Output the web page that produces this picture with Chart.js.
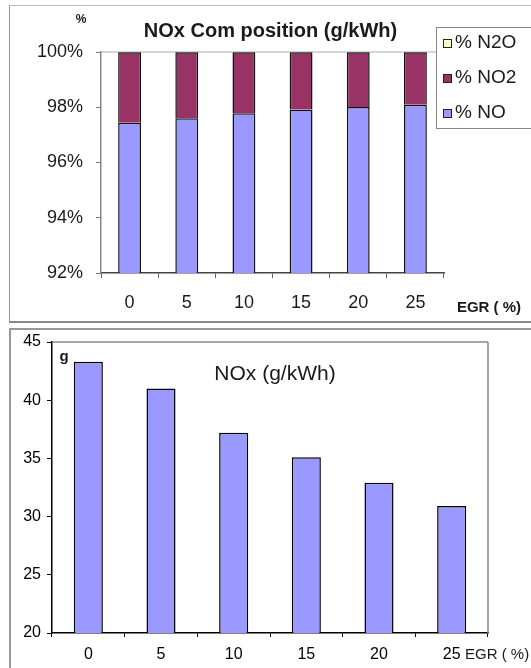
<!DOCTYPE html>
<html>
<head>
<meta charset="utf-8">
<script src="https://cdn.jsdelivr.net/npm/chart.js@4/dist/chart.umd.min.js"></script>
<style>
  body { margin: 0; background: #fff; width: 531px; height: 668px; overflow: hidden; position: relative; }
  .frame { position: absolute; box-sizing: border-box; }
  #frameTop { left: 9px; top: 5px; width: 560px; height: 318px; border-top: 1px solid #bbb; border-left: 1px solid #999; border-bottom: 2px solid #888; }
  #frameBottom { left: 9px; top: 328px; width: 560px; height: 400px; border-top: 2px solid #999; border-left: 2px solid #999; }
  canvas { position: absolute; left: 0; }
  #composition { top: 0; }
  #nox { top: 325px; }
</style>
</head>
<body>
<div class="frame" id="frameTop"></div>
<div class="frame" id="frameBottom"></div>
<canvas id="composition" width="531" height="325"></canvas>
<canvas id="nox" width="531" height="343"></canvas>
<script>
const egr = ['0', '5', '10', '15', '20', '25'];
// NOx composition, percent of total
const pctNO = [97.44, 97.60, 97.78, 97.92, 98.01, 98.09];
const pctNO2 = [2.55, 2.39, 2.21, 2.07, 1.98, 1.90];
const pctN2O = [0.01, 0.01, 0.01, 0.01, 0.01, 0.01];
const pctTicks = [92, 94, 96, 98, 100];
// NOx emission, g/kWh
const noxGkWh = [43.3, 41.0, 37.2, 35.1, 32.9, 30.9];
const gTicks = [20, 25, 30, 35, 40, 45];

const FONT = '"Liberation Sans", Arial, sans-serif';
Chart.defaults.font.family = FONT;
Chart.defaults.color = '#1a1a1a';
Chart.defaults.animation = false;

// lines on the plot area edges (Excel style plot frame)
const plotFrame = {
  id: 'plotFrame',
  beforeDatasetsDraw(chart, args, opts) {
    const { ctx, chartArea: a } = chart;
    ctx.save();
    ctx.strokeStyle = opts.color || '#999';
    ctx.lineWidth = opts.width || 1;
    ctx.beginPath();
    if (opts.top) { ctx.moveTo(a.left, a.top); ctx.lineTo(a.right, a.top); }
    if (opts.right) { ctx.moveTo(a.right, a.top); ctx.lineTo(a.right, a.bottom); }
    ctx.stroke();
    ctx.restore();
  }
};

// free text: title, units, axis name, legend
const labels = {
  id: 'labels',
  afterDraw(chart, args, opts) {
    const { ctx, chartArea: a } = chart;
    ctx.save();
    ctx.fillStyle = '#1a1a1a';
    ctx.textBaseline = 'middle';
    (opts.items || []).forEach(t => {
      ctx.font = t.font;
      ctx.textAlign = t.align || 'left';
      const x = t.x === 'center' ? (a.left + a.right) / 2 + (t.dx || 0) : t.x;
      ctx.fillText(t.text, x, t.y);
    });
    if (opts.legend) {
      const L = opts.legend;
      ctx.fillStyle = '#fff';
      ctx.strokeStyle = '#888';
      ctx.lineWidth = 1;
      ctx.fillRect(L.x, L.y, L.w, L.h);
      ctx.strokeRect(L.x + 0.5, L.y + 0.5, L.w, L.h);
      const sets = chart.data.datasets.slice().reverse();
      sets.forEach((ds, i) => {
        const cy = L.y + L.first + i * L.step;
        ctx.fillStyle = ds.backgroundColor;
        ctx.fillRect(L.x + 7, cy - 4, 8, 8);
        ctx.strokeStyle = '#222';
        ctx.strokeRect(L.x + 7.5, cy - 3.5, 8, 8);
        ctx.fillStyle = '#1a1a1a';
        ctx.font = L.font;
        ctx.textAlign = 'left';
        ctx.fillText(ds.label, L.x + 19, cy);
      });
    }
    ctx.restore();
  }
};

new Chart(document.getElementById('composition'), {
  type: 'bar',
  data: {
    labels: egr,
    datasets: [
      { label: '% NO', data: pctNO, backgroundColor: '#9999ff' },
      { label: '% NO2', data: pctNO2, backgroundColor: '#993366' },
      { label: '% N2O', data: pctN2O, backgroundColor: '#ffffcc' }
    ]
  },
  options: {
    responsive: false,
    datasets: { bar: { categoryPercentage: 1, barPercentage: 0.4, borderColor: '#111', borderWidth: 1.5 } },
    layout: { padding: { left: 0, top: 52, right: 87, bottom: 0 } },
    plugins: {
      legend: { display: false },
      tooltip: { enabled: false },
      plotFrame: { top: true, color: '#aaa' },
      labels: {
        items: [
          { text: 'NOx Com position (g/kWh)', x: 'center', dx: -2, y: 31, align: 'center', font: 'bold 20px ' + FONT },
          { text: '%', x: 81, y: 20, align: 'center', font: 'bold 12px ' + FONT },
          { text: 'EGR ( %)', x: 489, y: 308, align: 'center', font: 'bold 15px ' + FONT }
        ],
        legend: { x: 436, y: 27, w: 110, h: 101, first: 16, step: 35, font: '19px ' + FONT }
      }
    },
    scales: {
      x: {
        stacked: true,
        grid: { offset: true, drawOnChartArea: false, tickLength: 5, color: '#666' },
        border: { color: '#444', width: 1.5 },
        ticks: { padding: 14, font: { size: 18 } },
        afterFit: s => { s.height = 52; }
      },
      y: {
        stacked: true,
        min: 92,
        max: 100,
        grid: { drawOnChartArea: false, tickLength: 5, color: '#777' },
        border: { color: '#888', width: 1.5 },
        ticks: { padding: 13, font: { size: 18 }, callback: v => v + '%' },
        afterBuildTicks: s => { s.ticks = pctTicks.map(v => ({ value: v })); },
        afterFit: s => { s.width = 101; }
      }
    }
  },
  plugins: [plotFrame, labels]
});

new Chart(document.getElementById('nox'), {
  type: 'bar',
  data: {
    labels: egr,
    datasets: [
      { label: 'NOx (g/kWh)', data: noxGkWh, backgroundColor: '#9999ff', borderColor: '#000', borderWidth: 1.5 }
    ]
  },
  options: {
    responsive: false,
    datasets: { bar: { categoryPercentage: 1, barPercentage: 0.4 } },
    layout: { padding: { left: 0, top: 17, right: 43, bottom: 0 } },
    plugins: {
      legend: { display: false },
      tooltip: { enabled: false },
      plotFrame: { top: true, right: true, color: '#888', width: 1.5 },
      labels: {
        items: [
          { text: 'NOx (g/kWh)', x: 'center', dx: 5, y: 49, align: 'center', font: '21px ' + FONT },
          { text: 'g', x: 64, y: 32, align: 'center', font: 'bold 15px ' + FONT },
          { text: 'EGR ( %)', x: 465, y: 330, align: 'left', font: '15px ' + FONT }
        ]
      }
    },
    scales: {
      x: {
        grid: { offset: true, drawOnChartArea: false, tickLength: 4, color: '#000' },
        border: { color: '#000', width: 1.5 },
        ticks: { padding: 8, color: '#000', font: { size: 16 } },
        afterFit: s => { s.height = 35; }
      },
      y: {
        min: 20,
        max: 45,
        grid: { drawOnChartArea: false, tickLength: 5, color: '#000' },
        border: { color: '#000', width: 1.5 },
        ticks: { padding: 6, color: '#000', font: { size: 16 } },
        afterBuildTicks: s => { s.ticks = gTicks.map(v => ({ value: v })); },
        afterFit: s => { s.width = 52; }
      }
    }
  },
  plugins: [plotFrame, labels]
});
</script>
</body>
</html>
